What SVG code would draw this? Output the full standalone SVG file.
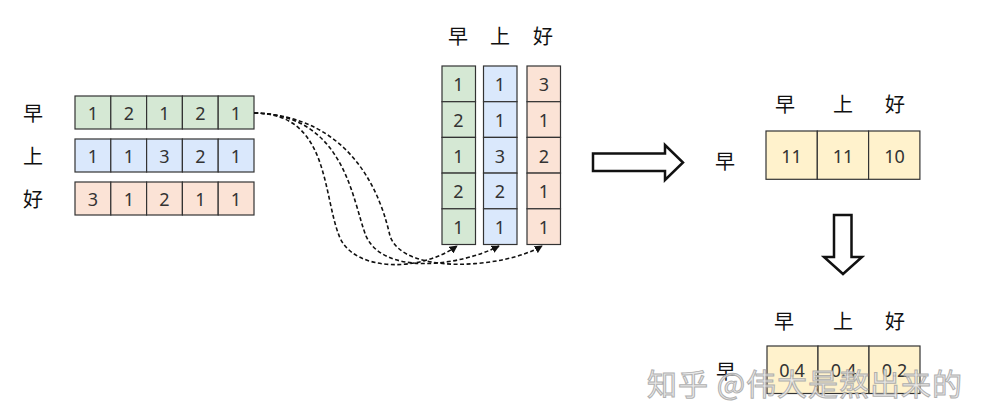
<svg xmlns="http://www.w3.org/2000/svg" width="981" height="411" viewBox="0 0 981 411">
<defs>
<style>
.g{fill:#d5e8d4;stroke:#333;stroke-width:1.2}
.b{fill:#dae8fc;stroke:#333;stroke-width:1.2}
.p{fill:#fbe3d6;stroke:#333;stroke-width:1.2}
.y{fill:#fff2cc;stroke:#333;stroke-width:1.2}
.n{font-family:"Noto Sans","Liberation Sans",sans-serif;font-size:18px;fill:#333;text-anchor:middle;dominant-baseline:central}
.c{font-family:"Noto Sans CJK SC",sans-serif;font-size:20px;fill:#111;text-anchor:middle;dominant-baseline:central}
.d{fill:none;stroke:#111;stroke-width:1.6;stroke-dasharray:4 2.5;marker-end:url(#ah)}
.big{fill:#fff;stroke:#111;stroke-width:2.5;stroke-linejoin:miter}
.wm{font-family:"Noto Sans CJK SC",sans-serif;font-size:30px;letter-spacing:1px;fill:#e8e8e8;stroke:#a8a8a8;stroke-width:1;text-anchor:start;dominant-baseline:central;opacity:0.9}
</style>
<marker id="ah" viewBox="0 0 10 10" refX="9" refY="5" markerWidth="5" markerHeight="5" orient="auto">
<path d="M0,0 L10,5 L0,10 z" fill="#111"/>
</marker>
</defs>

<g id="left-matrix">
<text class="c" x="33" y="112">早</text>
<text class="c" x="33" y="155">上</text>
<text class="c" x="33" y="198">好</text>
<rect class="g" x="75" y="96" width="35.8" height="33"/><rect class="g" x="110.8" y="96" width="35.8" height="33"/><rect class="g" x="146.6" y="96" width="35.8" height="33"/><rect class="g" x="182.4" y="96" width="35.8" height="33"/><rect class="g" x="218.2" y="96" width="35.8" height="33"/>
<text class="n" x="93" y="113">1</text><text class="n" x="129" y="113">2</text><text class="n" x="164.5" y="113">1</text><text class="n" x="200.3" y="113">2</text><text class="n" x="236" y="113">1</text>
<rect class="b" x="75" y="139" width="35.8" height="33"/><rect class="b" x="110.8" y="139" width="35.8" height="33"/><rect class="b" x="146.6" y="139" width="35.8" height="33"/><rect class="b" x="182.4" y="139" width="35.8" height="33"/><rect class="b" x="218.2" y="139" width="35.8" height="33"/>
<text class="n" x="93" y="156">1</text><text class="n" x="129" y="156">1</text><text class="n" x="164.5" y="156">3</text><text class="n" x="200.3" y="156">2</text><text class="n" x="236" y="156">1</text>
<rect class="p" x="75" y="182" width="35.8" height="33"/><rect class="p" x="110.8" y="182" width="35.8" height="33"/><rect class="p" x="146.6" y="182" width="35.8" height="33"/><rect class="p" x="182.4" y="182" width="35.8" height="33"/><rect class="p" x="218.2" y="182" width="35.8" height="33"/>
<text class="n" x="93" y="199">3</text><text class="n" x="129" y="199">1</text><text class="n" x="164.5" y="199">2</text><text class="n" x="200.3" y="199">1</text><text class="n" x="236" y="199">1</text>
</g>

<g id="middle-columns">
<text class="c" x="458" y="35">早</text>
<text class="c" x="500" y="35">上</text>
<text class="c" x="543" y="35">好</text>
<rect class="g" x="442" y="66" width="33.5" height="35.7"/><rect class="g" x="442" y="101.7" width="33.5" height="35.7"/><rect class="g" x="442" y="137.4" width="33.5" height="35.7"/><rect class="g" x="442" y="173.1" width="33.5" height="35.7"/><rect class="g" x="442" y="208.8" width="33.5" height="35.7"/>
<text class="n" x="458.5" y="84">1</text><text class="n" x="458.5" y="120">2</text><text class="n" x="458.5" y="155.5">1</text><text class="n" x="458.5" y="191">2</text><text class="n" x="458.5" y="227">1</text>
<rect class="b" x="483.5" y="66" width="33.5" height="35.7"/><rect class="b" x="483.5" y="101.7" width="33.5" height="35.7"/><rect class="b" x="483.5" y="137.4" width="33.5" height="35.7"/><rect class="b" x="483.5" y="173.1" width="33.5" height="35.7"/><rect class="b" x="483.5" y="208.8" width="33.5" height="35.7"/>
<text class="n" x="500" y="84">1</text><text class="n" x="500" y="120">1</text><text class="n" x="500" y="155.5">3</text><text class="n" x="500" y="191">2</text><text class="n" x="500" y="227">1</text>
<rect class="p" x="527" y="66" width="33.5" height="35.7"/><rect class="p" x="527" y="101.7" width="33.5" height="35.7"/><rect class="p" x="527" y="137.4" width="33.5" height="35.7"/><rect class="p" x="527" y="173.1" width="33.5" height="35.7"/><rect class="p" x="527" y="208.8" width="33.5" height="35.7"/>
<text class="n" x="544" y="84">3</text><text class="n" x="544" y="120">1</text><text class="n" x="544" y="155.5">2</text><text class="n" x="544" y="191">1</text><text class="n" x="544" y="227">1</text>
</g>

<g id="connectors">
<path class="d" d="M254,113 C330,113 322,195 340,238 C356,272 420,272 457,246"/>
<path class="d" d="M254,113 C345,114 352,200 366,236 C384,276 460,266 499,246"/>
<path class="d" d="M254,113 C355,116 382,200 390,236 C404,276 505,268 542,246"/>
<path class="big" d="M593,153.5 L665,153.5 L665,145 L683,162.5 L665,180 L665,171 L593,171 Z"/>
<path class="big" d="M834,215 L851.5,215 L851.5,257 L862,257 L843,274 L824,257 L834,257 Z"/>
</g>

<g id="score-matrix">
<text class="c" x="785" y="103">早</text>
<text class="c" x="843" y="103">上</text>
<text class="c" x="895" y="103">好</text>
<text class="c" x="725" y="160">早</text>
<rect class="y" x="766" y="131" width="51.3" height="48.3"/><rect class="y" x="817.3" y="131" width="51.3" height="48.3"/><rect class="y" x="868.6" y="131" width="51.3" height="48.3"/>
<text class="n" x="791.5" y="156">11</text><text class="n" x="843" y="156">11</text><text class="n" x="894.5" y="156">10</text>
</g>

<g id="prob-matrix">
<text class="c" x="784" y="320">早</text>
<text class="c" x="843" y="320">上</text>
<text class="c" x="895" y="320">好</text>
<text class="c" x="726" y="370">早</text>
<rect class="y" x="767" y="346" width="51" height="47.5"/><rect class="y" x="818" y="346" width="51" height="47.5"/><rect class="y" x="869" y="346" width="51" height="47.5"/>
<text class="n" x="792" y="370">0.4</text><text class="n" x="843.5" y="370">0.4</text><text class="n" x="894.5" y="370">0.2</text>
</g>

<text class="wm" x="647" y="382">知乎 @伟大是熬出来的</text>
</svg>
